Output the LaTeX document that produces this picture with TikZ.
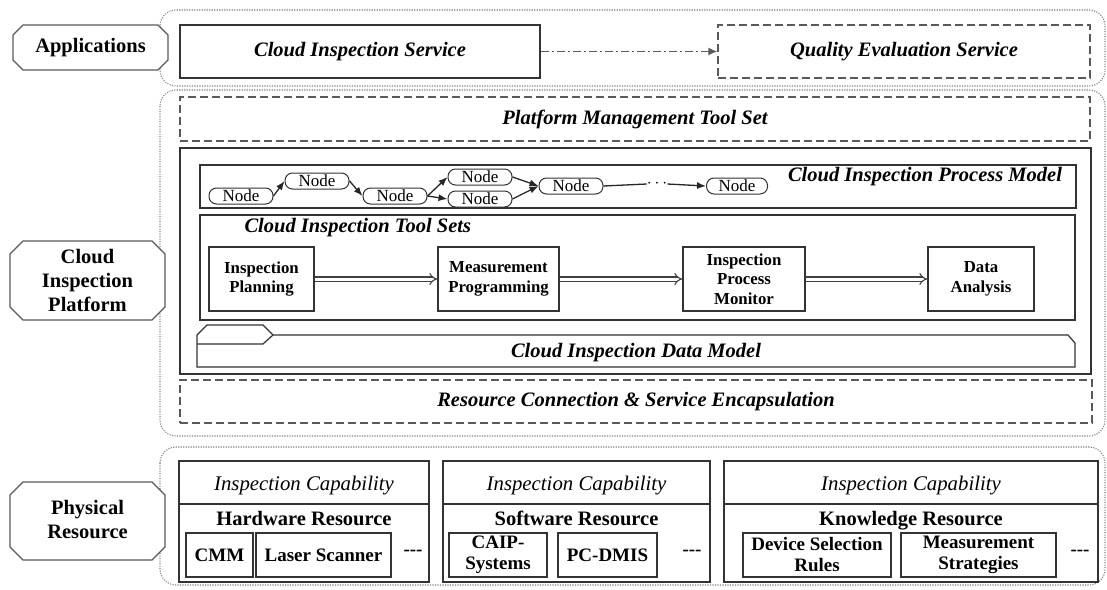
\documentclass[tikz,border=0pt]{standalone}
\usepackage{fontspec}
\setmainfont{Liberation Serif}
\usetikzlibrary{arrows.meta}

% chamfered label plate: x1 y1 x2 y2 chamfer
\newcommand\labelplate[5]{%
  \draw[octa] (#1+#5,#2) -- (#3-#5,#2) -- (#3,#2+#5) -- (#3,#4-#5) -- (#3-#5,#4)
    -- (#1+#5,#4) -- (#1,#4-#5) -- (#1,#2+#5) -- cycle;}

\begin{document}
\begin{tikzpicture}[x=1pt,y=-1pt,
  line/.style={draw=black!80, line width=1.2pt},
  grp/.style={draw=black!50, line width=1.1pt, dash pattern=on 1.1pt off 1.4pt, rounded corners=16pt},
  octa/.style={draw=black!65, line width=1.3pt, fill=white},
  solidbox/.style={draw=black!80, line width=1.2pt, fill=white, inner sep=0},
  dashbox/.style={draw=black!65, line width=1.4pt, dash pattern=on 8pt off 4pt, inner sep=0},
  ttl/.style={font=\fontsize{20.5}{23}\selectfont\bfseries\itshape},
  capt/.style={font=\fontsize{20.8}{23}\selectfont\itshape, anchor=base},
  lbl/.style={font=\fontsize{20.5}{24}\selectfont\bfseries, align=center},
  sub/.style={font=\fontsize{16.8}{19.5}\selectfont\bfseries, align=center},
  resttl/.style={font=\fontsize{20.5}{22}\selectfont\bfseries, anchor=base},
  res/.style={font=\fontsize{19}{21}\selectfont\bfseries, align=center},
  pnode/.style={draw=black!80, line width=1pt, rounded corners=7.5pt, minimum width=64pt,
    minimum height=16pt, inner sep=0, font=\fontsize{17}{17}\selectfont},
  narrow/.style={-{Latex[length=9pt,width=7pt]}, draw=black!85, line width=1.3pt},
  flow/.style={double=white, draw=black!75, double distance=3pt, line width=1.1pt,
    -{Implies[length=5pt]}},
  dashdot/.style={draw=black!65, line width=1.4pt, dash pattern=on 8pt off 3pt on 2pt off 3pt,
    -{Latex[length=9pt,width=8pt]}}
]
\useasboundingbox (0,0) rectangle (1107,589);

% ---------- layer groups ----------
\draw[grp] (160,10) rectangle (1105,86);
\draw[grp] (160,90) rectangle (1105,436);
\draw[grp] (160,447) rectangle (1105,585);

% ---------- layer labels ----------
\labelplate{13}{25}{168}{70}{10}
\node[lbl] (lapp) at (90.5,47.5) {Applications};
\labelplate{10}{241}{165}{320}{13}
\node[lbl] (lplat) at (87.5,280.5) {Cloud\\Inspection\\Platform};
\labelplate{10}{482}{165}{560}{13}
\node[lbl] (lphys) at (87.5,520) {Physical\\Resource};

% ---------- applications ----------
\node[solidbox, ttl, minimum width=360pt, minimum height=53pt] (cis) at (360,51.5) {Cloud Inspection Service};
\node[dashbox, ttl, minimum width=372pt, minimum height=53pt] (qes) at (904,51.5) {Quality Evaluation Service};
\draw[dashdot] (cis.east) -- (qes.west);

% ---------- platform ----------
\node[dashbox, ttl, minimum width=910pt, minimum height=44pt] (pmt) at (635,119) {Platform Management Tool Set};
\draw[line] (180,148) rectangle (1091,374);

% process model
\draw[line] (200,165) rectangle (1076,208);
\node[pnode] (n1) at (241,196) {Node};
\node[pnode] (n2) at (317,181) {Node};
\node[pnode] (n3) at (395,196) {Node};
\node[pnode] (n4) at (480,177) {Node};
\node[pnode] (n5) at (480,199) {Node};
\node[pnode] (n6) at (571,186) {Node};
\node[inner sep=0, font=\fontsize{17}{17}\selectfont\bfseries] (dots) at (657,184) {$\cdots$};
\node[pnode, minimum width=61pt] (n7) at (737,186) {Node};
\draw[narrow] (n1.east) -- (n2.west);
\draw[narrow] (n2.east) -- (n3.west);
\draw[narrow] (n3.east) -- (n4.west);
\draw[narrow] (n3.east) -- (n5.west);
\draw[narrow] (n4.east) -- (n6.west);
\draw[narrow] (n5.east) -- (n6.west);
\draw[draw=black!85, line width=1.3pt] (n6.east) -- (dots.west);
\draw[narrow] (dots.east) -- (n7.west);
\node[ttl] (pmodel) at (925,177) {Cloud Inspection Process Model};

% tool sets
\draw[line] (200,215) rectangle (1075,320);
\node[ttl, anchor=west] (tsets) at (241,228) {Cloud Inspection Tool Sets};
\node[solidbox, sub, minimum width=105pt, minimum height=64pt] (ip) at (261.5,279) {Inspection\\Planning};
\node[solidbox, sub, minimum width=121pt, minimum height=64pt] (mp) at (498.5,279) {Measurement\\Programming};
\node[solidbox, sub, minimum width=122pt, minimum height=64pt] (ipm) at (744,279) {Inspection\\Process\\Monitor};
\node[solidbox, sub, minimum width=106pt, minimum height=64pt] (da) at (981,279) {Data\\Analysis};
\draw[flow] (ip) -- (mp);
\draw[flow] (mp) -- (ipm);
\draw[flow] (ipm) -- (da);

% data model with its tab
\draw[line, fill=white] (197,367) -- (197,335) -- (207,325) -- (263,325) -- (273,335)
  -- (1068,335) -- (1075,343) -- (1075,367) -- cycle;
\draw[line] (273,335) -- (263,344) -- (197,344);
\node[ttl] (dmodel) at (636,353) {Cloud Inspection Data Model};

% connection layer
\node[dashbox, ttl, minimum width=912pt, minimum height=43pt] (rcs) at (636,401.5) {Resource Connection \& Service Encapsulation};

% ---------- physical resources ----------
% hardware
\draw[line] (179,461) rectangle (429,582);
\draw[line] (179,504) -- (429,504);
\node[capt] (hwc) at (304,490) {Inspection Capability};
\node[resttl] (hwr) at (304,525) {Hardware Resource};
\node[solidbox, res, minimum width=67pt, minimum height=44pt] (cmm) at (219.5,555) {CMM};
\node[solidbox, res, minimum width=135pt, minimum height=44pt] (ls) at (323.5,555) {Laser Scanner};
\node[res] (hwd) at (413,553) {{-}{-}{-}};

% software
\draw[line] (443,461) rectangle (710,582);
\draw[line] (443,504) -- (710,504);
\node[capt] (swc) at (576.5,490) {Inspection Capability};
\node[resttl] (swr) at (576.5,525) {Software Resource};
\node[solidbox, res, minimum width=98pt, minimum height=44pt] (caip) at (498,555) {CAIP-\\Systems};
\node[solidbox, res, minimum width=99pt, minimum height=44pt] (pcd) at (607.5,555) {PC-DMIS};
\node[res] (swd) at (692,553) {{-}{-}{-}};

% knowledge
\draw[line] (724,461) rectangle (1098,582);
\draw[line] (724,504) -- (1098,504);
\node[capt] (knc) at (911,490) {Inspection Capability};
\node[resttl] (knr) at (911,525) {Knowledge Resource};
\node[solidbox, res, minimum width=148pt, minimum height=44pt] (dsr) at (817,555) {Device Selection\\Rules};
\node[solidbox, res, minimum width=155pt, minimum height=44pt] (ms) at (978.5,555) {Measurement\\Strategies};
\node[res] (knd) at (1080,553) {{-}{-}{-}};
\end{tikzpicture}
\end{document}
